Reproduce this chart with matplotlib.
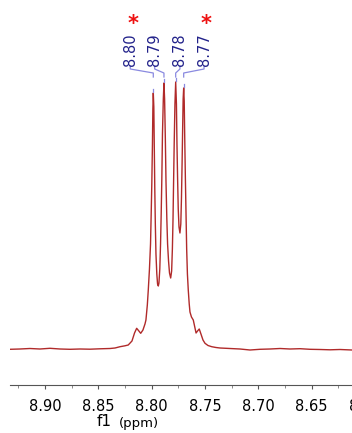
import matplotlib
matplotlib.use("Agg")
import matplotlib.pyplot as plt
import numpy as np

# spectrum trace (ppm, intensity in arbitrary units)
ppm = [8.9328, 8.9235, 8.9141, 8.9047, 8.8953, 8.8859, 8.8765, 8.8672, 8.8578, 8.8484,
       8.8390, 8.8343, 8.8296, 8.8250, 8.8219, 8.8184, 8.8160, 8.8140, 8.8123, 8.8102,
       8.8081, 8.8062, 8.8053, 8.8040, 8.8031, 8.8020, 8.8010, 8.8004, 8.7998, 8.7992,
       8.7988, 8.7984, 8.7979, 8.7975, 8.7970, 8.7965, 8.7959, 8.7951, 8.7944, 8.7937,
       8.7931, 8.7923, 8.7916, 8.7910, 8.7904, 8.7898, 8.7890, 8.7884, 8.7878, 8.7871,
       8.7865, 8.7857, 8.7850, 8.7841, 8.7832, 8.7821, 8.7812, 8.7805, 8.7799, 8.7794,
       8.7788, 8.7781, 8.7774, 8.7767, 8.7762, 8.7756, 8.7750, 8.7743, 8.7734, 8.7726,
       8.7720, 8.7714, 8.7708, 8.7704, 8.7699, 8.7694, 8.7689, 8.7683, 8.7677, 8.7671,
       8.7664, 8.7656, 8.7647, 8.7640, 8.7626, 8.7609, 8.7595, 8.7583, 8.7569, 8.7553,
       8.7537, 8.7518, 8.7499, 8.7471, 8.7436, 8.7396, 8.7358, 8.7265, 8.7171, 8.7077,
       8.6983, 8.6889, 8.6795, 8.6702, 8.6608, 8.6514, 8.6420, 8.6326, 8.6233, 8.6120]
intensity = [-0.3, 0.0, 0.5, 0.0, 0.7, 0.0, -0.3, 0.0, -0.2, 0.2,
             0.5, 1.0, 2.3, 3.2, 4.0, 8.0, 16.0, 20.7, 18.5, 15.7,
             19.0, 25.0, 29.0, 44.0, 59.0, 80.0, 105.0, 134.0, 165.0, 205.0,
             240.0, 256.0, 242.0, 205.0, 160.0, 125.0, 95.0, 75.0, 65.0, 63.0,
             66.0, 80.0, 105.0, 135.0, 170.0, 215.0, 250.0, 266.0, 250.0, 210.0,
             168.0, 130.0, 105.0, 88.0, 76.0, 71.0, 78.0, 100.0, 130.0, 165.0,
             205.0, 245.0, 267.0, 245.0, 205.0, 170.0, 140.0, 122.0, 116.0, 125.0,
             150.0, 185.0, 225.0, 250.0, 261.0, 248.0, 210.0, 170.0, 135.0, 100.0,
             75.0, 59.0, 45.0, 37.0, 32.0, 29.0, 22.0, 16.0, 18.0, 20.0,
             15.0, 9.0, 5.7, 3.5, 2.3, 1.5, 1.0, 0.5, 0.0, -1.0,
             -0.3, 0.0, 0.5, 0.0, 0.3, -0.3, -0.5, -0.8, -0.5, -1.0]

# picked peaks
peak_ppm = [8.7984, 8.7884, 8.7774, 8.7699]
peak_height = [256.0, 266.0, 267.0, 261.0]
peak_labels = ["8.80", "8.79", "8.78", "8.77"]

# axis ticks
tick_vals = [8.90, 8.85, 8.80, 8.75, 8.70, 8.65, 8.60]
tick_labels = ["8.90", "8.85", "8.80", "8.75", "8.70", "8.65", "8.60"]
minor_vals = [8.925, 8.875, 8.825, 8.775, 8.725, 8.675, 8.625]

# where the labels sit (layout)
label_x = [8.8200, 8.7971, 8.7734, 8.7508]
star_x = [8.8172, 8.7490]

fig = plt.figure(figsize=(3.52, 4.33), dpi=100)
ax = fig.add_axes([10 / 352, 47.7 / 433, 356 / 352, 385.3 / 433])

ax.plot(ppm, intensity, color="#b02a2a", lw=1.0)

lab_col = "#22228a"
con_col = "#8a8ae0"
for lx, px, ph, t in zip(label_x, peak_ppm, peak_height, peak_labels):
    ax.text(lx, 283, t, rotation=90, ha="center", va="bottom",
            fontsize=10.5, color=lab_col)
    ax.plot([lx, lx, px, px], [283, 280, 276, 272], color=con_col, lw=0.9)
    ax.plot([px, px], [ph + 1.5, ph + 4.5], color=con_col, lw=0.9)

for sx in star_x:
    ax.text(sx, 319, "*", ha="center", va="baseline", fontsize=15,
            fontweight="bold", color="#ee1111")

for s in ["top", "left", "right"]:
    ax.spines[s].set_visible(False)
ax.spines["bottom"].set_color("#555555")
ax.spines["bottom"].set_linewidth(0.8)
ax.set_yticks([])
ax.set_xticks(tick_vals)
ax.set_xticklabels(tick_labels)
ax.set_xticks(minor_vals, minor=True)
ax.tick_params(axis="x", which="major", length=3, width=0.8, color="#555555",
               labelsize=10.5, pad=7)
ax.tick_params(axis="x", which="minor", length=2, width=0.6, color="#777777")
ax.set_xlim(8.9328, 8.5989)
ax.set_ylim(-36.3, 349)

fig.text(104 / 352, 1 - 421 / 433, "f1", ha="center", va="center", fontsize=11)
fig.text(139 / 352, 1 - 423 / 433, "(ppm)", ha="center", va="center", fontsize=9.5)

fig.savefig("out.png", dpi=100)
